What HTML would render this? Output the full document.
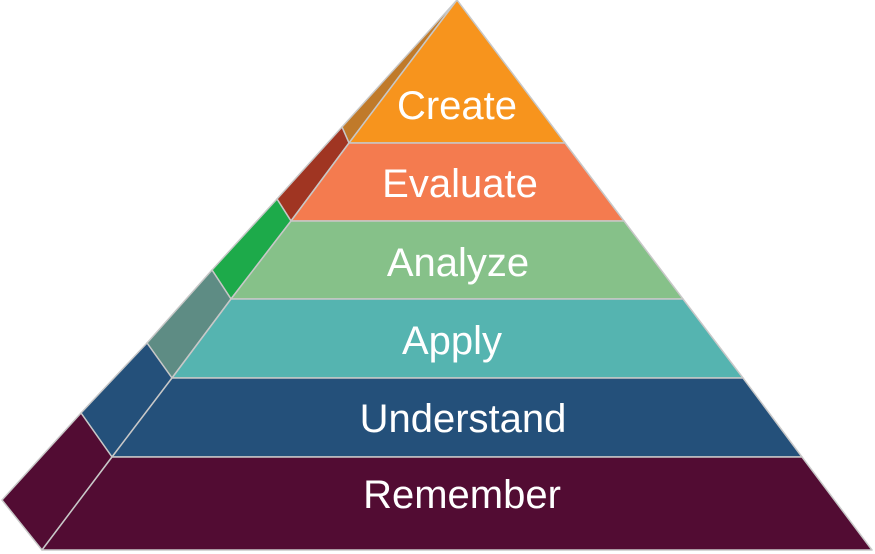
<!DOCTYPE html>
<html><head><meta charset="utf-8"><style>
html,body{margin:0;padding:0;background:#fff;width:875px;height:554px;overflow:hidden}
text{font-family:"Liberation Sans",Arial,sans-serif;font-size:40px;fill:#fff;text-anchor:middle}
</style></head><body>
<svg width="875" height="554" viewBox="0 0 875 554" xmlns="http://www.w3.org/2000/svg">
<g stroke="#c8c8c8" stroke-width="1.5" stroke-linejoin="round">
<!-- side faces -->
<polygon points="457,0 349,143 342,127" fill="#C07A2A"/>
<polygon points="342,127 349,143 291,221 277,199" fill="#A03522"/>
<polygon points="277,199 291,221 231,299 212,270" fill="#1DAA4A"/>
<polygon points="212,270 231,299 172,378 147,343" fill="#5E8C84"/>
<polygon points="147,343 172,378 112,457 81,413" fill="#24507A"/>
<polygon points="81,413 112,457 42,550 2,500" fill="#520C33"/>
<!-- front faces -->
<polygon points="457,0 565,143 349,143" fill="#F7941D"/>
<polygon points="349,143 565,143 624,221 291,221" fill="#F47B4F"/>
<polygon points="291,221 624,221 683,299 231,299" fill="#86C189"/>
<polygon points="231,299 683,299 743,378 172,378" fill="#55B4B0"/>
<polygon points="172,378 743,378 802,457 112,457" fill="#24507A"/>
<polygon points="112,457 802,457 872,550 42,550" fill="#520C33"/>
</g>
<text x="457" y="119">Create</text>
<text x="460" y="197">Evaluate</text>
<text x="458" y="276">Analyze</text>
<text x="452" y="354">Apply</text>
<text x="463" y="432">Understand</text>
<text x="462" y="508">Remember</text>
</svg>
</body></html>
